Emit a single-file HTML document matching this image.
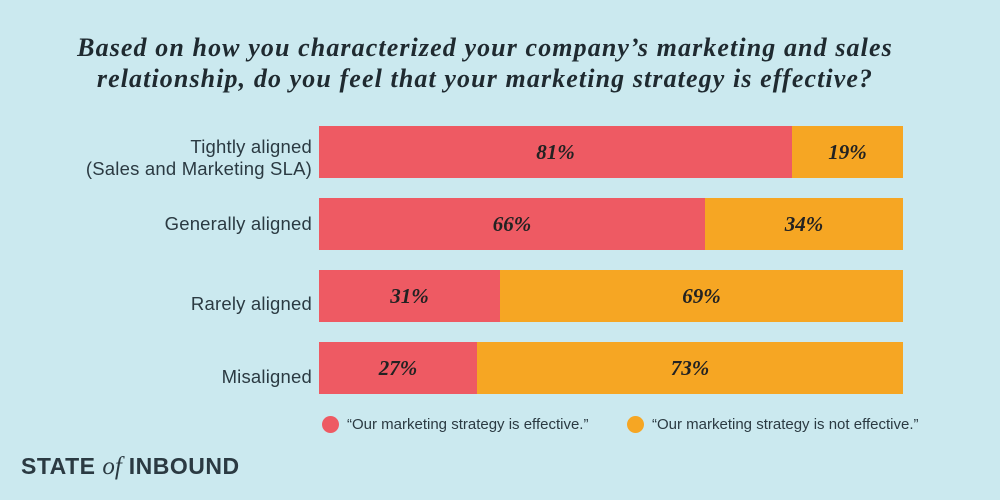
<!DOCTYPE html>
<html><head><style>
body{margin:0;width:1000px;height:500px;background:#cbe9ef;position:relative;overflow:hidden;font-family:"Liberation Sans",sans-serif;color:#2b3a42}
.t{position:absolute;left:0;width:970px;text-align:center;font-family:"Liberation Serif",serif;font-style:italic;font-weight:bold;font-size:26px;line-height:31px;top:32px;color:#1f2a30;letter-spacing:1.1px;white-space:nowrap}
.bar{position:absolute;left:319px;width:584px;height:52px;display:flex}
.r{background:#ee5a63}.o{background:#f6a623}
.bar div{display:flex;align-items:center;justify-content:center;font-family:"Liberation Serif",serif;font-style:italic;font-weight:bold;font-size:21px;color:#222}
.lab{position:absolute;right:688px;text-align:right;font-size:18.5px;line-height:22px;color:#2b3a42;white-space:nowrap;letter-spacing:0.2px}
.leg{position:absolute;top:416px;font-size:15px;display:flex;align-items:center}
.dot{width:17px;height:17px;border-radius:50%;margin-right:8px}
.logo{position:absolute;left:21px;top:453px;font-weight:bold;font-size:23px;letter-spacing:0.5px;color:#2b3a42}
</style></head><body>
<div class="t">Based on how you characterized your company’s marketing and sales<br>relationship, do you feel that your marketing strategy is effective?</div>
<div class="lab" style="top:136px">Tightly aligned<br>(Sales and Marketing SLA)</div>
<div class="lab" style="top:213px">Generally aligned</div>
<div class="lab" style="top:293px">Rarely aligned</div>
<div class="lab" style="top:366px">Misaligned</div>
<div class="bar" style="top:126px"><div class="r" style="width:473px">81%</div><div class="o" style="width:111px">19%</div></div>
<div class="bar" style="top:198px"><div class="r" style="width:386px">66%</div><div class="o" style="width:198px">34%</div></div>
<div class="bar" style="top:270px"><div class="r" style="width:181px">31%</div><div class="o" style="width:403px">69%</div></div>
<div class="bar" style="top:342px"><div class="r" style="width:158px">27%</div><div class="o" style="width:426px">73%</div></div>
<div class="leg" style="left:322px"><div class="dot" style="background:#ee5a63"></div>“Our marketing strategy is effective.”</div>
<div class="leg" style="left:627px"><div class="dot" style="background:#f6a623"></div>“Our marketing strategy is not effective.”</div>
<div class="logo">STATE <span style="font-family:'Liberation Serif',serif;font-style:italic;font-weight:normal;font-size:25px;letter-spacing:0">of</span> INBOUND</div>
</body></html>
